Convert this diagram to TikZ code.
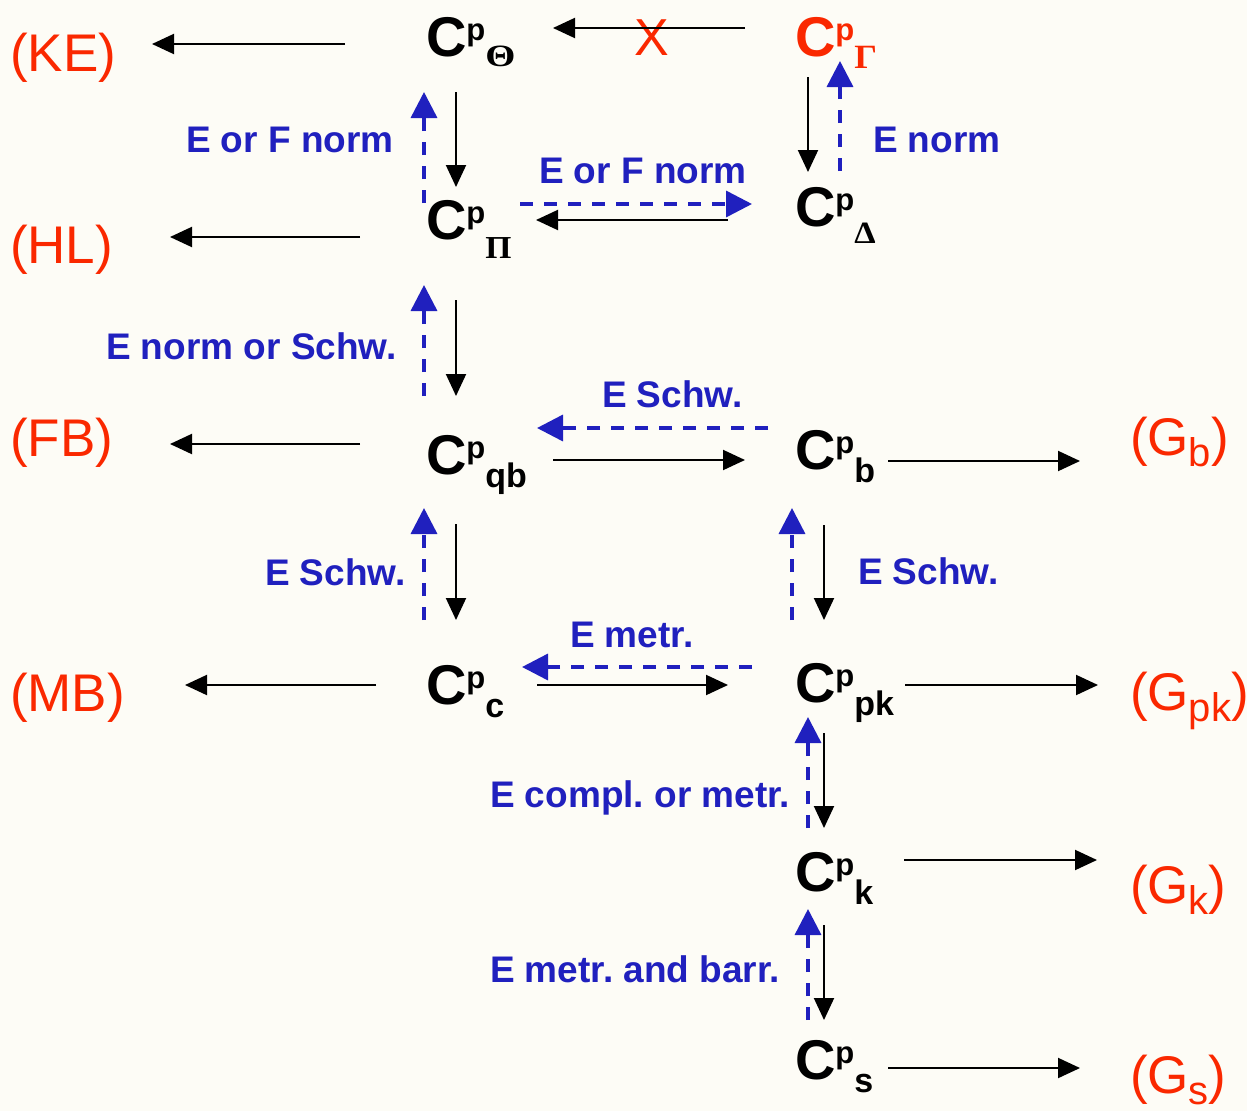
\documentclass[tikz,border=0pt]{standalone}
\usepackage{fontspec}
\usepackage{graphicx}
\setmainfont{Liberation Sans}
\newfontfamily\grk{Liberation Serif}
\usetikzlibrary{arrows.meta,calc}
\frenchspacing
\definecolor{bgc}{RGB}{253,252,246}
\definecolor{rd}{RGB}{250,40,0}
\definecolor{bl}{RGB}{32,32,190}
\newcommand\supp{\raisebox{16pt}{\fontsize{31}{31}\selectfont p}}
\newcommand\subb[1]{\raisebox{-13pt}{\fontsize{34}{34}\selectfont #1}}
\newcommand\grsub[4]{\raisebox{-#1pt}{\grk\bfseries\fontsize{#2}{#2}\selectfont\scalebox{#3}[1]{#4}}}
\newcommand\gsub[1]{\raisebox{-11pt}{\fontsize{40}{40}\selectfont #1}}
\begin{document}
\begin{tikzpicture}[x=1pt,y=-1pt,
  cnode/.style={inner sep=0pt,outer sep=0pt,anchor=base west,font=\fontsize{56}{60}\selectfont\bfseries},
  rlab/.style={inner sep=0pt,outer sep=0pt,anchor=base west,text=rd,font=\fontsize{53}{60}\selectfont},
  blab/.style={inner sep=0pt,outer sep=0pt,anchor=base west,text=bl,font=\fontsize{37}{44}\selectfont\bfseries},
  blk/.style={draw=black,line width=2pt,-{Triangle[length=22pt,width=20pt]}},
  blu/.style={draw=bl,line width=3.5pt,dash pattern=on 13pt off 11pt,-{Triangle[length=26pt,width=26pt]}}]
\fill[bgc] (0,0) rectangle (1247,1111);
\useasboundingbox (0,0) rectangle (1247,1111);
% C nodes
\node[cnode] (Theta) at (426,56) {C\supp\grsub{10}{31}{1.25}{Θ}};
\node[cnode,text=rd] (Gamma) at (795,56) {C\supp\grsub{12}{34}{1.05}{Γ}};
\node[cnode] (Pi) at (426,239) {C\supp\grsub{19}{32}{1.05}{Π}};
\node[cnode] (Delta) at (795,226) {C\supp\grsub{17}{31}{1.1}{Δ}};
\node[cnode] (qb) at (426,474) {C\supp\subb{qb}};
\node[cnode] (b) at (795,469) {C\supp\subb{b}};
\node[cnode] (c) at (426,704) {C\supp\subb{c}};
\node[cnode] (pk) at (795,702) {C\supp\subb{pk}};
\node[cnode] (k) at (795,891) {C\supp\subb{k}};
\node[cnode] (s) at (795,1079) {C\supp\subb{s}};
% red labels
\node[rlab] (KE) at (10,71) {(KE)};
\node[rlab] (HL) at (10,263) {(HL)};
\node[rlab] (FB) at (10,456) {(FB)};
\node[rlab] (MB) at (10,711) {(MB)};
\node[rlab] (Gb) at (1130,455) {(G\gsub{b})};
\node[rlab] (Gpk) at (1130,710) {(G\gsub{pk})};
\node[rlab] (Gk) at (1130,903) {(G\gsub{k})};
\node[rlab] (Gs) at (1130,1093) {(G\gsub{s})};
\node[rlab,font=\fontsize{52}{55}\selectfont] (X) at (634,55) {X};
% blue labels
\node[blab] (l1) at (186,152) {E or F norm};
\node[blab] (l2) at (873,152) {E norm};
\node[blab] (l3) at (539,183) {E or F norm};
\node[blab] (l4) at (106,359) {E norm or Schw.};
\node[blab] (l5) at (602,407) {E Schw.};
\node[blab] (l6) at (265,585) {E Schw.};
\node[blab] (l7) at (858,584) {E Schw.};
\node[blab] (l8) at (570,647) {E metr.};
\node[blab] (l9) at (490,807) {E compl. or metr.};
\node[blab] (l10) at (490,982) {E metr. and barr.};
% black arrows
\draw[blk] ($(Theta.base west)+(-81,-12)$) -- ($(KE.base west)+(142,-27)$);
\draw[blk] ($(Gamma.base west)+(-50,-28)$) -- ($(Theta.base west)+(127,-28)$);
\draw[blk] ($(Theta.base west)+(30,36)$) -- ($(Pi.base west)+(30,-52)$);
\draw[blk] ($(Gamma.base west)+(13,21)$) -- ($(Delta.base west)+(13,-54)$);
\draw[blk] ($(Delta.base west)+(-67,-6)$) -- ($(Pi.base west)+(110,-19)$);
\draw[blk] ($(Pi.base west)+(-66,-2)$) -- ($(HL.base west)+(160,-26)$);
\draw[blk] ($(Pi.base west)+(30,61)$) -- ($(qb.base west)+(30,-78)$);
\draw[blk] ($(qb.base west)+(-66,-30)$) -- ($(FB.base west)+(160,-12)$);
\draw[blk] ($(qb.base west)+(127,-14)$) -- ($(b.base west)+(-50,-9)$);
\draw[blk] ($(b.base west)+(93,-8)$) -- ($(Gb.base west)+(-50,6)$);
\draw[blk] ($(qb.base west)+(30,50)$) -- ($(c.base west)+(30,-84)$);
\draw[blk] ($(b.base west)+(29,56)$) -- ($(pk.base west)+(29,-82)$);
\draw[blk] ($(c.base west)+(111,-19)$) -- ($(pk.base west)+(-67,-17)$);
\draw[blk] ($(c.base west)+(-50,-19)$) -- ($(MB.base west)+(175,-26)$);
\draw[blk] ($(pk.base west)+(110,-17)$) -- ($(Gpk.base west)+(-32,-25)$);
\draw[blk] ($(pk.base west)+(29,31)$) -- ($(k.base west)+(29,-63)$);
\draw[blk] ($(k.base west)+(109,-31)$) -- ($(Gk.base west)+(-33,-43)$);
\draw[blk] ($(k.base west)+(29,34)$) -- ($(s.base west)+(29,-59)$);
\draw[blk] ($(s.base west)+(93,-11)$) -- ($(Gs.base west)+(-50,-25)$);
% blue dashed arrows
\draw[blu] ($(Pi.base west)+(-2,-36)$) -- ($(Theta.base west)+(-2,36)$);
\draw[blu] ($(Delta.base west)+(45,-55)$) -- ($(Gamma.base west)+(45,5)$);
\draw[blu] ($(Pi.base west)+(94,-35)$) -- ($(Delta.base west)+(-43,-22)$);
\draw[blu] ($(qb.base west)+(-2,-78)$) -- ($(Pi.base west)+(-2,46)$);
\draw[blu] ($(b.base west)+(-27,-41)$) -- ($(qb.base west)+(111,-46)$);
\draw[blu] ($(c.base west)+(-2,-84)$) -- ($(qb.base west)+(-2,34)$);
\draw[blu] ($(pk.base west)+(-3,-82)$) -- ($(b.base west)+(-3,39)$);
\draw[blu] ($(pk.base west)+(-43,-35)$) -- ($(c.base west)+(96,-37)$);
\draw[blu] ($(k.base west)+(13,-63)$) -- ($(pk.base west)+(13,15)$);
\draw[blu] ($(s.base west)+(13,-59)$) -- ($(k.base west)+(13,18)$);
\end{tikzpicture}
\end{document}
